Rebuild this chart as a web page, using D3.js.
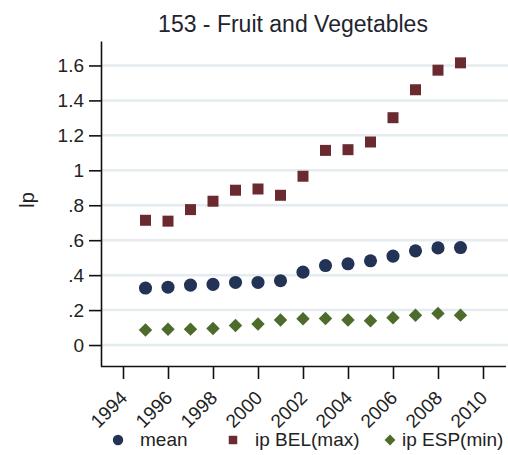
<!DOCTYPE html>
<html>
<head>
<meta charset="utf-8">
<script src="https://cdn.jsdelivr.net/npm/d3@7"></script>
<style>
  body { margin: 0; background: #fff; }
  svg { display: block; font-family: "Liberation Sans", Arial, sans-serif; }
  .grid line { stroke: #e4ecef; stroke-width: 2.5; }
  .axis path, .axis line { stroke: #111; stroke-width: 1.6; }
  .axis text { fill: #222; font-size: 19px; }
</style>
</head>
<body>
<script>
// data
var years = [1995, 1996, 1997, 1998, 1999, 2000, 2001, 2002, 2003, 2004, 2005, 2006, 2007, 2008, 2009];
var meanVals = [0.326, 0.331, 0.343, 0.347, 0.358, 0.358, 0.368, 0.417, 0.455, 0.465, 0.482, 0.509, 0.539, 0.556, 0.558];
var belVals  = [0.714, 0.709, 0.775, 0.823, 0.886, 0.893, 0.857, 0.966, 1.114, 1.118, 1.162, 1.301, 1.461, 1.573, 1.615];
var espVals  = [0.086, 0.090, 0.091, 0.095, 0.112, 0.120, 0.143, 0.150, 0.152, 0.143, 0.139, 0.156, 0.170, 0.181, 0.171];

var yTicks = [0, 0.2, 0.4, 0.6, 0.8, 1, 1.2, 1.4, 1.6];
var yTickLabels = ["0", ".2", ".4", ".6", ".8", "1", "1.2", "1.4", "1.6"];
var xTicks = [1994, 1996, 1998, 2000, 2002, 2004, 2006, 2008, 2010];

var seriesNames = ["mean", "ip BEL(max)", "ip ESP(min)"];
var seriesColors = ["#233355", "#6b2a2f", "#4d6b2a"];

var W = 508, H = 455;
var PLOT = { left: 101, right: 505.5, top: 41, bottom: 366 };

var svg = d3.select("body").append("svg")
    .attr("width", W)
    .attr("height", H);

var x = d3.scaleLinear().domain([1993, 2011]).range([100.5, 505.5]);
var y = d3.scaleLinear().domain([-0.12, 1.74]).range([PLOT.bottom, PLOT.top]);

// gridlines
svg.append("g").attr("class", "grid")
  .selectAll("line")
  .data(yTicks)
  .enter().append("line")
    .attr("x1", PLOT.left)
    .attr("x2", W)
    .attr("y1", function(d){ return y(d); })
    .attr("y2", function(d){ return y(d); });

// y axis
var yAxis = d3.axisLeft(y)
    .tickValues(yTicks)
    .tickFormat(function(d, i){ return yTickLabels[i]; })
    .tickSize(12)
    .tickSizeOuter(0)
    .tickPadding(5);

svg.append("g")
    .attr("class", "axis")
    .attr("transform", "translate(" + PLOT.left + ",0)")
    .call(yAxis);

// x axis
var xAxis = d3.axisBottom(x)
    .tickValues(xTicks)
    .tickFormat(d3.format("d"))
    .tickSize(13)
    .tickSizeOuter(0);

var gx = svg.append("g")
    .attr("class", "axis")
    .attr("transform", "translate(0," + PLOT.bottom + ")")
    .call(xAxis);

// rotated year labels
gx.selectAll("text")
    .attr("y", 0)
    .attr("dy", 0)
    .attr("text-anchor", "end")
    .attr("transform", "translate(5,33) rotate(-45)");

// title + y label
svg.append("text")
    .attr("x", 293)
    .attr("y", 32)
    .attr("text-anchor", "middle")
    .attr("fill", "#1e2430")
    .style("font-size", "23px")
    .text("153 - Fruit and Vegetables");

svg.append("text")
    .attr("transform", "translate(34,200) rotate(-90)")
    .attr("text-anchor", "middle")
    .attr("fill", "#222")
    .style("font-size", "20px")
    .text("lp");

// markers
var symCircle = d3.symbol().type(d3.symbolCircle);
var symSquare = d3.symbol().type(d3.symbolSquare);
var symDiamond = d3.symbol().type(d3.symbolDiamond2);

function drawSeries(vals, sym, size, color) {
    svg.append("g").selectAll("path")
        .data(vals)
        .enter().append("path")
        .attr("d", sym.size(size)())
        .attr("fill", color)
        .attr("transform", function(d, i){
            return "translate(" + x(years[i]) + "," + y(d) + ")";
        });
}

drawSeries(meanVals, symCircle, 135, seriesColors[0]);
drawSeries(belVals, symSquare, 121, seriesColors[1]);
drawSeries(espVals, symDiamond, 115, seriesColors[2]);

// legend
var legendX = [118, 233, 390];
var legendTextX = [140, 255, 402];
var legendSyms = [symCircle.size(85)(), symSquare.size(72)(), symDiamond.size(75)()];

var leg = svg.append("g");
seriesNames.forEach(function(name, i){
    leg.append("path")
        .attr("d", legendSyms[i])
        .attr("fill", seriesColors[i])
        .attr("transform", "translate(" + legendX[i] + ",440)");
    leg.append("text")
        .attr("x", legendTextX[i])
        .attr("y", 446)
        .attr("fill", "#222")
        .style("font-size", "19px")
        .text(name);
});
</script>
</body>
</html>
